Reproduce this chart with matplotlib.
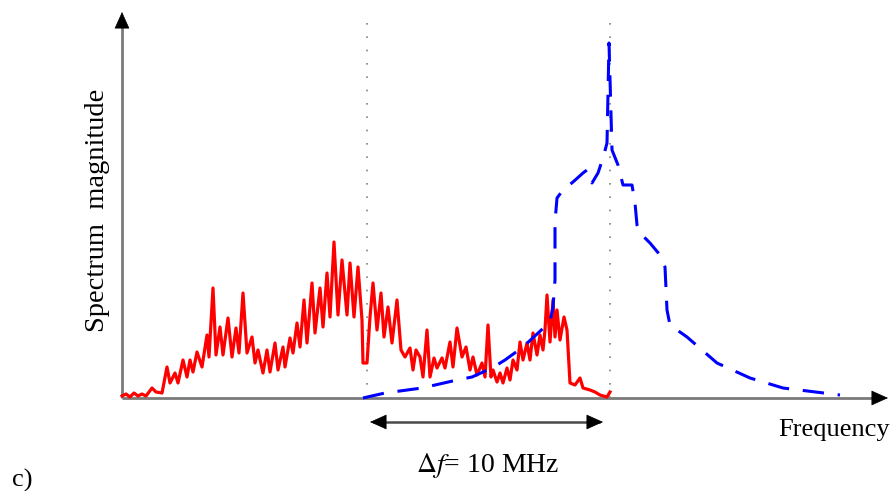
import numpy as np
import matplotlib
matplotlib.use("Agg")
import matplotlib.pyplot as plt

plt.rcParams['font.family'] = ['Liberation Serif', 'DejaVu Serif']
plt.rcParams['mathtext.fontset'] = 'stix'

# frequency (arbitrary units from the axis origin) and magnitude (arbitrary units)
red_f = [0, 4, 8, 12, 16, 20, 24, 30, 34, 40, 45, 48, 53, 56, 61, 65, 68, 71, 75, 80,
         85, 87, 91, 94, 98, 101, 106, 110, 114, 117, 121, 125, 130, 133, 136, 141, 145, 148, 153, 156,
         161, 163, 168, 171, 175, 178, 182, 185, 190, 193, 198, 201, 205, 208, 212, 216, 220, 225, 228, 232,
         236, 240, 241, 245, 248, 251, 255, 259, 262, 266, 270, 275, 279, 283, 288, 291, 294, 298, 301, 305,
         308, 312, 315, 320, 323, 328, 331, 335, 340, 344, 348, 351, 355, 360, 363, 366, 369, 371, 375, 378,
         381, 385, 388, 391, 395, 398, 401, 405, 408, 411, 415, 418, 421, 423, 425, 428, 431, 433, 435, 438,
         442, 445, 448, 453, 458, 461, 468, 473, 478, 485, 488]
red_m = [2, 4, 1, 5, 2, 4, 2, 10, 6, 5, 31, 15, 25, 15, 38, 21, 38, 26, 46, 31,
         63, 41, 110, 43, 71, 43, 80, 41, 70, 45, 105, 45, 61, 35, 48, 25, 48, 26, 55, 28,
         51, 31, 60, 45, 75, 51, 98, 55, 115, 65, 110, 71, 125, 81, 156, 83, 138, 83, 135, 81,
         131, 78, 35, 35, 81, 115, 68, 105, 61, 91, 55, 98, 48, 41, 50, 28, 48, 41, 21, 68,
         21, 40, 30, 40, 30, 56, 31, 70, 41, 51, 28, 41, 23, 35, 21, 73, 21, 28, 16, 25,
         15, 30, 18, 38, 28, 56, 38, 55, 38, 65, 43, 63, 48, 68, 103, 56, 98, 61, 88, 58,
         81, 68, 15, 13, 20, 10, 8, 6, 3, 1, 6]

blue_f = [241, 263, 300, 335, 350, 370, 383, 401, 428, 431, 433, 433, 435, 441, 451, 461, 465, 470, 476, 481,
          485, 487, 490, 496, 501, 510, 513, 515, 518, 528, 538, 543, 545, 548, 565, 595, 628, 661, 718]
blue_m = [0, 5, 10, 18, 21, 30, 38, 51, 76, 91, 118, 176, 200, 208, 216, 225, 228, 215, 225, 240,
          255, 355, 248, 233, 213, 213, 195, 173, 165, 155, 143, 131, 88, 73, 61, 35, 20, 10, 3]

marker_f = [245, 488]          # dotted frequency markers (10 MHz apart)
marker_top = [380, 385]

fig = plt.figure(figsize=(8.96, 4.91), dpi=100)
ax = fig.add_axes([0, 0, 1, 1])
ax.set_xlim(-122, 774)
ax.set_ylim(-93, 398)
ax.axis('off')

head = dict(arrowstyle='-|>,head_length=1.0,head_width=0.45', color='black',
            mutation_scale=11, lw=0.5, shrinkA=0, shrinkB=0)

# axes with arrow heads
ax.plot([0, 0], [0, 375], color='#7a7a7a', lw=2, solid_capstyle='butt')
ax.plot([0, 755], [0, 0], color='#7a7a7a', lw=2, solid_capstyle='butt')
ax.annotate('', xy=(0, 386), xytext=(0, 370), arrowprops=head)
ax.annotate('', xy=(766, 0), xytext=(750, 0), arrowprops=head)

for f, top in zip(marker_f, marker_top):
    ax.plot([f, f], [0, top], color='#808080', lw=1.2, linestyle=(0, (1, 7)))

ax.plot(red_f, red_m, color='#ff0000', lw=2.3, solid_joinstyle='round', zorder=3)
ax.plot(blue_f, blue_m, color='#0000ff', lw=2.2, dashes=(7, 4.5), zorder=4)

# bandwidth arrow
ax.plot([252, 477], [-24, -24], color='#4a4a4a', lw=1.8)
ax.annotate('', xy=(248, -24), xytext=(262, -24), arrowprops=head)
ax.annotate('', xy=(481, -24), xytext=(467, -24), arrowprops=head)

ax.text(366, -67, r'$\Delta f$= 10 MHz', fontsize=20, ha='center', va='center')
ax.text(656, -32, 'Frequency', fontsize=19, ha='left', va='center')
ax.text(-25, 188, 'Spectrum  magnitude', fontsize=20.5, rotation=90, ha='center', va='center')
ax.text(-110, -82, 'c)', fontsize=19, ha='left', va='center')

fig.savefig('out.png', dpi=100)
